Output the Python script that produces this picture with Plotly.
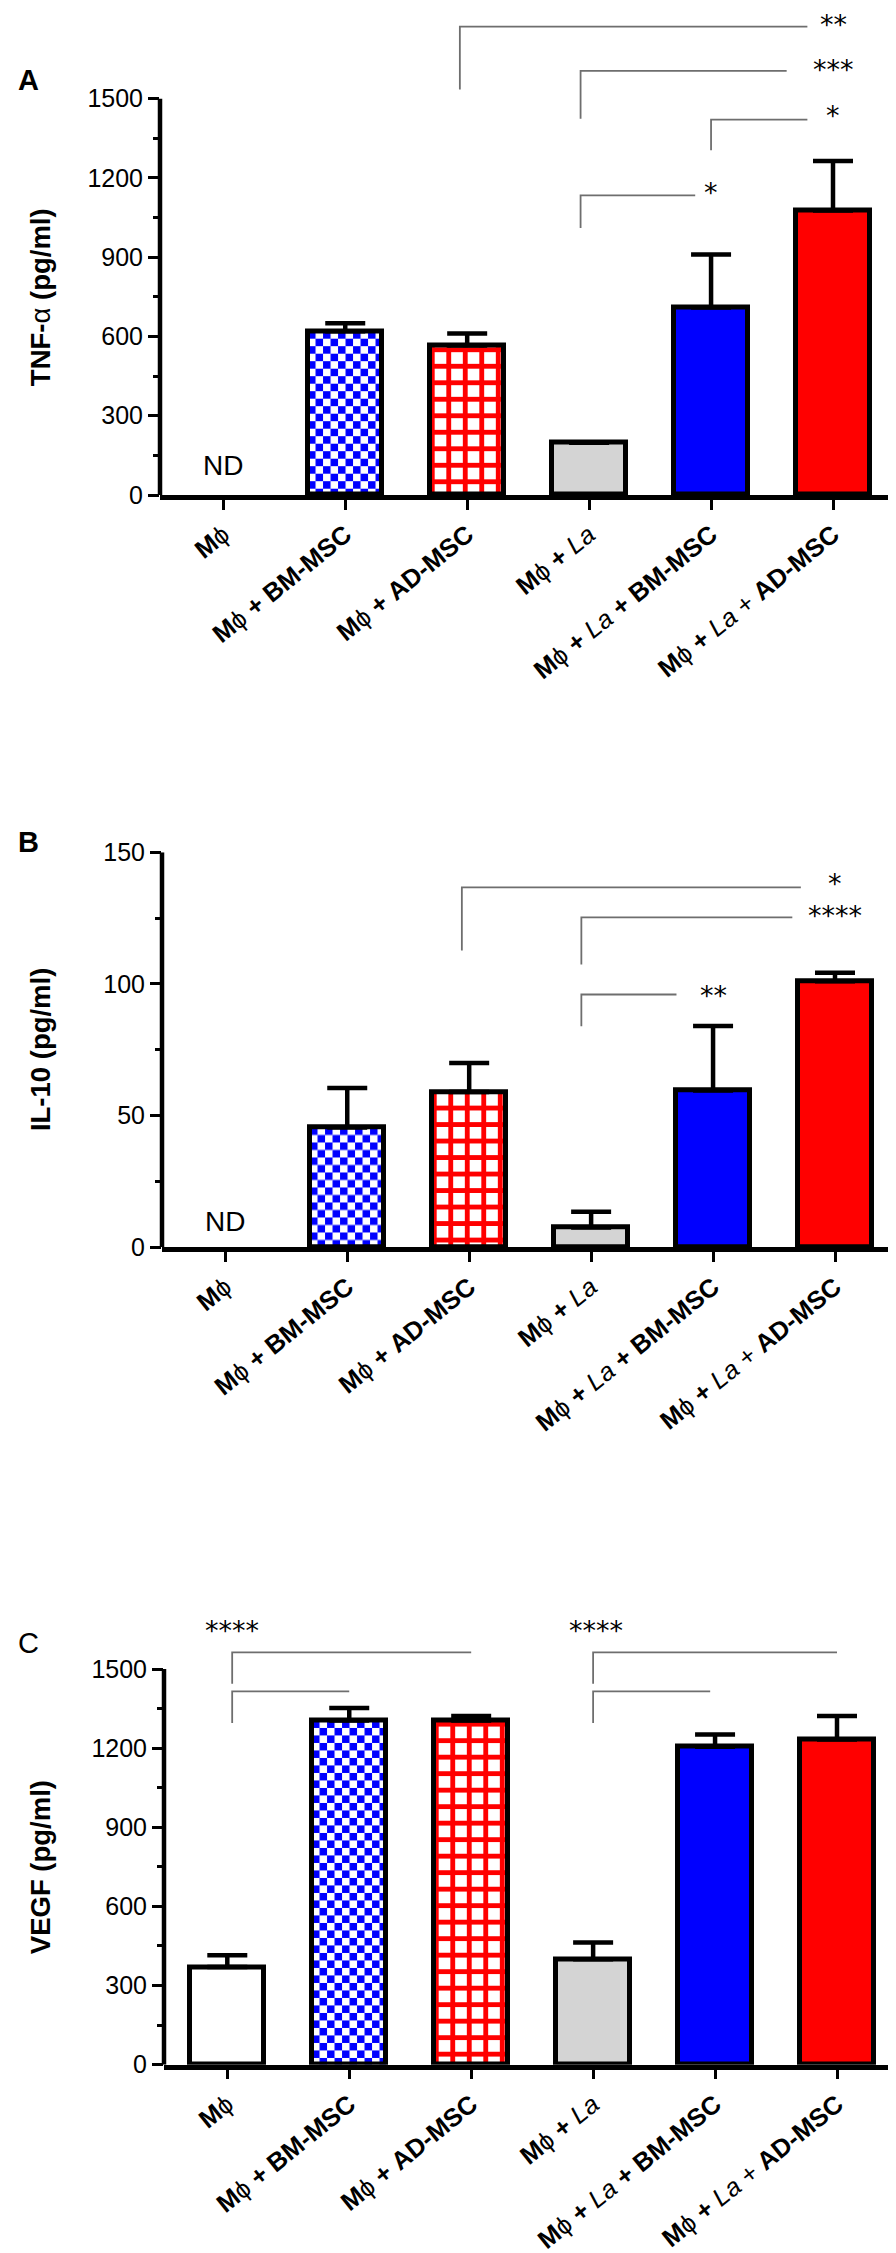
import base64
import plotly.graph_objects as go

# ---------------- data ----------------
tick_labels = [
    "<b>M</b>ϕ",
    "<b>M</b>ϕ<b> + BM-MSC</b>",
    "<b>M</b>ϕ<b> + AD-MSC</b>",
    "<b>M</b>ϕ<b> + </b><i>La</i>",
    "<b>M</b>ϕ<b> + </b><i>La</i><b> + BM-MSC</b>",
    "<b>M</b>ϕ<b> + </b><i>La</i> + <b>AD-MSC</b>",
]
x_pos = [0, 1, 2, 3, 4, 5]

tnf_mean = [None, 620, 566, 198, 710, 1077]
tnf_sd = [None, 30, 45, 0, 200, 187]
il10_mean = [None, 45.5, 59, 7.5, 59.5, 101]
il10_sd = [None, 15, 11, 6, 24.5, 3.3]
vegf_mean = [370, 1305, 1305, 400, 1205, 1233]
vegf_sd = [45, 47, 17, 63, 47, 89]

# significance brackets: (x start, x end, y of horizontal, y of drop end)
tnf_brackets = [(1.94, 4.79, 1773, 1535), (2.93, 4.62, 1605, 1424),
                (4.0, 4.79, 1421, 1305), (2.93, 3.87, 1134, 1011)]
tnf_stars = [("**", 5, 1795), ("***", 5, 1624), ("*", 5, 1453), ("*", 4, 1160)]
il10_brackets = [(1.94, 4.72, 136.7, 112.7), (2.92, 4.65, 125.3, 107.4),
                 (2.92, 3.70, 96.0, 83.9)]
il10_stars = [("*", 5, 139.6), ("****", 5, 127.6), ("**", 4, 97.2)]
vegf_brackets = [(0.04, 2.0, 1563, 1444), (0.04, 1.0, 1415, 1295),
                 (3.0, 5.0, 1563, 1444), (3.0, 3.96, 1415, 1295)]
vegf_stars = [("****", 0.04, 1662), ("****", 3.02, 1662)]

# ---------------- style / layout constants ----------------
W, H = 896, 2253
FONT = "Liberation Sans, Arial, Helvetica, sans-serif"
STAR_FONT = "DejaVu Sans, Liberation Sans, sans-serif"
BAR_W = 0.61
CAT_STEP_PX = 121.94
LINE_W = 5
fill_colors = ["#ffffff", "rgba(0,0,0,0)", "#ff0000", "#d4d4d4", "#0000ff", "#ff0000"]
pattern_shapes = ["", "", "+", "", "", ""]

panels = [
    dict(mean=tnf_mean, sd=tnf_sd, brackets=tnf_brackets, stars=tnf_stars,
         zero_px=487.0, top_px=90.7, top_tick=1500, range_top=1830, dtick=300, minor=150,
         xshift=0, title="<b>TNF-</b>α<b> (pg/ml)</b>", letter="<b>A</b>", letter_y=72, nd=110),
    dict(mean=il10_mean, sd=il10_sd, brackets=il10_brackets, stars=il10_stars,
         zero_px=1239.3, top_px=844.3, top_tick=150, range_top=150, dtick=50, minor=25,
         xshift=2, title="<b>IL-10 (pg/ml)</b>", letter="<b>B</b>", letter_y=834, nd=9.9),
    dict(mean=vegf_mean, sd=vegf_sd, brackets=vegf_brackets, stars=vegf_stars,
         zero_px=2056.7, top_px=1661.0, top_tick=1500, range_top=1760, dtick=300, minor=150,
         xshift=4, title="<b>VEGF (pg/ml)</b>", letter="C", letter_y=1635, nd=None),
]


def checker_uri(w_px, h_px, s=7.5, color="#0000ff"):
    svg = (f'<svg xmlns="http://www.w3.org/2000/svg" width="{w_px:.2f}" height="{h_px:.2f}" '
           f'viewBox="0 0 {w_px:.2f} {h_px:.2f}" preserveAspectRatio="none">'
           f'<defs><pattern id="p" width="{2*s}" height="{2*s}" patternUnits="userSpaceOnUse">'
           f'<rect width="{2*s}" height="{2*s}" fill="#ffffff"/>'
           f'<rect width="{s}" height="{s}" fill="{color}"/>'
           f'<rect x="{s}" y="{s}" width="{s}" height="{s}" fill="{color}"/>'
           f'</pattern></defs><rect width="{w_px:.2f}" height="{h_px:.2f}" fill="url(#p)"/></svg>')
    return "data:image/svg+xml;base64," + base64.b64encode(svg.encode()).decode()


fig = go.Figure()
shapes, annotations, images = [], [], []
layout_axes = {}

for i, p in enumerate(panels):
    n = "" if i == 0 else str(i + 1)
    xa, ya = "x" + n, "y" + n
    xl, xr = 152 + p["xshift"], 888 + p["xshift"]
    cat0 = 215.3 + p["xshift"]
    x_range = [(xl - cat0) / CAT_STEP_PX, (xr - cat0) / CAT_STEP_PX]
    ppu = (p["zero_px"] - p["top_px"]) / p["top_tick"]
    top_px = p["zero_px"] - p["range_top"] * ppu
    ydom = [1 - p["zero_px"] / H, 1 - top_px / H]

    fig.add_trace(go.Bar(
        x=x_pos, y=p["mean"], width=BAR_W, xaxis=xa, yaxis=ya,
        marker=dict(color=fill_colors, line=dict(color="black", width=LINE_W),
                    pattern=dict(shape=pattern_shapes, fgcolor="#ffffff", size=16.5,
                                 solidity=0.5, fillmode="replace")),
        error_y=dict(type="data", symmetric=False, array=p["sd"],
                     arrayminus=[0 if v is not None else None for v in p["sd"]],
                     color="black", thickness=4.5, width=20),
        hoverinfo="skip",
    ))

    # checkerboard texture behind the transparent BM-MSC bar
    v = p["mean"][1]
    images.append(dict(source=checker_uri(BAR_W * CAT_STEP_PX, v * ppu),
                       xref=xa, yref=ya, x=x_pos[1] - BAR_W / 2, y=v,
                       sizex=BAR_W, sizey=v, xanchor="left", yanchor="top",
                       sizing="stretch", layer="below"))

    major = list(range(0, p["top_tick"] + 1, p["dtick"]))
    minor = list(range(p["minor"], p["top_tick"], p["dtick"]))
    layout_axes["xaxis" + n] = dict(
        domain=[xl / W, xr / W], range=x_range, anchor=ya,
        tickmode="array", tickvals=x_pos, ticktext=tick_labels, tickangle=-39,
        tickfont=dict(family=FONT, size=25.5, color="black"),
        showline=True, linewidth=4.5, linecolor="black",
        ticks="outside", ticklen=10, tickwidth=3, tickcolor="black",
        showgrid=False, zeroline=False, automargin=False, fixedrange=True)
    layout_axes["yaxis" + n] = dict(
        domain=ydom, range=[0, p["range_top"]], anchor=xa,
        tickmode="array", tickvals=major, ticktext=[str(t) for t in major],
        tickfont=dict(family=FONT, size=25, color="black"),
        showline=False, ticks="outside", ticklen=11, tickwidth=3, tickcolor="black",
        minor=dict(tickmode="array", tickvals=minor, ticks="outside", ticklen=6,
                   tickwidth=3, tickcolor="black"),
        showgrid=False, zeroline=False, automargin=False, fixedrange=True)

    # y axis line from 0 to the top tick
    shapes.append(dict(type="line", xref=xa + " domain", yref=ya, x0=0, x1=0,
                       y0=0, y1=p["top_tick"], line=dict(color="black", width=4.5)))
    # brackets
    for (x0, x1, yt, yd) in p["brackets"]:
        shapes.append(dict(type="path", xref=xa, yref=ya,
                           path=f"M {x0},{yd} L {x0},{yt} L {x1},{yt}",
                           line=dict(color="#6e6e6e", width=1.8)))
    for (txt, xx, yy) in p["stars"]:
        annotations.append(dict(text=txt, x=xx, y=yy, xref=xa, yref=ya, showarrow=False,
                                xanchor="center", yanchor="middle", yshift=-4,
                                font=dict(family=STAR_FONT, size=27, color="black")))
    if p["nd"] is not None:
        annotations.append(dict(text="ND", x=0, y=p["nd"], xref=xa, yref=ya, showarrow=False,
                                xanchor="center", yanchor="middle",
                                font=dict(family=FONT, size=28, color="black")))
    # axis title
    annotations.append(dict(text=p["title"], x=33.3 / W, xref="paper", y=p["top_tick"] / 2,
                            yref=ya, textangle=-90, showarrow=False, xanchor="center",
                            yanchor="middle", font=dict(family=FONT, size=27.5, color="black")))
    # panel letter
    annotations.append(dict(text=p["letter"], x=20 / W, y=1 - p["letter_y"] / H,
                            xref="paper", yref="paper", showarrow=False,
                            xanchor="center", yanchor="middle",
                            font=dict(family=FONT, size=29, color="black")))

fig.update_layout(
    width=W, height=H, margin=dict(l=0, r=0, t=0, b=0),
    paper_bgcolor="white", plot_bgcolor="white", showlegend=False,
    shapes=shapes, annotations=annotations, images=images, bargap=0,
    **layout_axes,
)

fig.write_html("out.html")
